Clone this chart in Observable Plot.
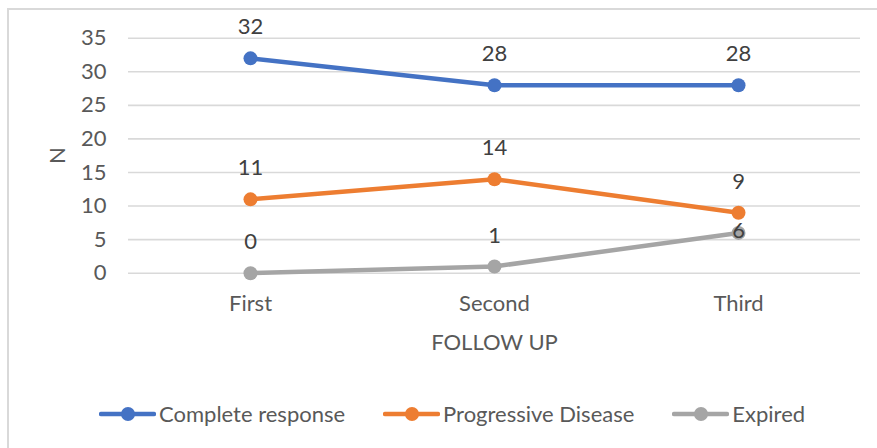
<!DOCTYPE html>
<html>
<head>
<meta charset="utf-8">
<script src="https://cdn.jsdelivr.net/npm/d3@7"></script>
<script src="https://cdn.jsdelivr.net/npm/@observablehq/plot@0.6"></script>
<style>
  body { margin: 0; background: #fff; }
  #wrap { position: relative; width: 877px; height: 448px; overflow: hidden; font-family: Lato, "Open Sans", sans-serif; }
  #frame { position: absolute; left: 7px; top: 8px; width: 900px; height: 460px; border: 2px solid #d9d9d9; box-sizing: border-box; }
  #chart { position: absolute; left: 0; top: 0; }
  #legend { position: absolute; left: 99px; top: 400px; display: flex; align-items: center; color: #595959; font-size: 22px; }
  .item { display: flex; align-items: center; margin-right: 38px; }
  .item svg { margin-right: 3px; }
</style>
</head>
<body>
<div id="wrap">
  <div id="frame"></div>
  <div id="chart"></div>
  <div id="legend"></div>
</div>
<script>
const followUps = ["First", "Second", "Third"];
const seriesNames = ["Complete response", "Progressive Disease", "Expired"];
const completeResponse = [32, 28, 28];
const progressiveDisease = [11, 14, 9];
const expired = [0, 1, 6];
const yTicks = [0, 5, 10, 15, 20, 25, 30, 35];
const colors = ["#4472C4", "#ED7D31", "#A5A5A5"];

const seriesValues = [completeResponse, progressiveDisease, expired];
const data = [];
seriesNames.forEach((s, i) => followUps.forEach((f, j) => data.push({series: s, followUp: f, value: seriesValues[i][j]})));

const textColor = "#595959";
const fontSize = 22;
const overlap = d => d.series === "Expired" && d.followUp === "Third";

const plot = Plot.plot({
  width: 877,
  height: 360,
  marginTop: 37.7,
  marginLeft: 128,
  marginRight: 17,
  marginBottom: 87.3,
  style: {fontFamily: "Lato, 'Open Sans', sans-serif", fontSize: fontSize + "px", color: textColor, background: "transparent", overflow: "visible"},
  x: {type: "band", domain: followUps, padding: 0},
  y: {domain: [0, 35]},
  color: {domain: seriesNames, range: colors},
  marks: [
    Plot.gridY(yTicks, {stroke: "#d9d9d9", strokeOpacity: 1, strokeWidth: 1.6}),
    Plot.axisY(yTicks, {tickSize: 0, tickPadding: 22, label: null, fill: textColor}),
    Plot.axisX({tickSize: 0, tickPadding: 22, label: null, fill: textColor}),
    Plot.text(["N"], {frameAnchor: "left", dx: -71, rotate: -90, textAnchor: "middle", lineAnchor: "middle", fill: textColor}),
    Plot.text(["FOLLOW UP"], {frameAnchor: "bottom", dy: 70, textAnchor: "middle", lineAnchor: "middle", fill: textColor}),
    Plot.line(data, {x: "followUp", y: "value", z: "series", stroke: "series", strokeWidth: 4.5}),
    Plot.dot(data, {x: "followUp", y: "value", fill: "series", r: 7}),
    Plot.text(data.filter(d => !overlap(d)), {x: "followUp", y: "value", text: "value", dy: -31, fill: "#404040"}),
    Plot.text(data.filter(overlap), {x: "followUp", y: "value", text: "value", dy: -2, fill: "#404040"})
  ]
});
document.getElementById("chart").appendChild(plot);

const legend = document.getElementById("legend");
seriesNames.forEach((s, i) => {
  const item = document.createElement("div");
  item.className = "item";
  item.innerHTML = `<svg width="57" height="16"><line x1="2" x2="55" y1="8" y2="8" stroke="${colors[i]}" stroke-width="4.5" stroke-linecap="round"/><circle cx="29" cy="8" r="7" fill="${colors[i]}"/></svg><span>${s}</span>`;
  legend.appendChild(item);
});
</script>
</body>
</html>
